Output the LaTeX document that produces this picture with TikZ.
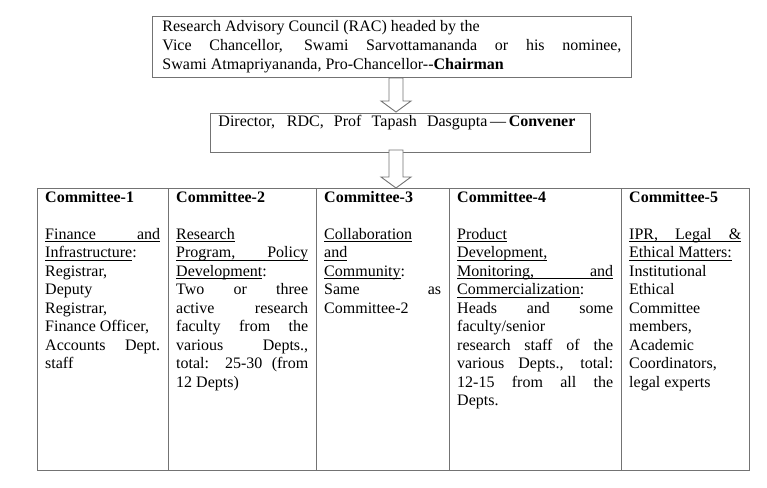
\documentclass[tikz,border=0pt]{standalone}
\usepackage{fontspec}
\setmainfont{Liberation Serif}
\usetikzlibrary{calc}
\newcommand\myj[1]{\leavevmode\makebox[\hsize][s]{\spaceskip=0pt\xspaceskip=0pt #1}}
\newcommand\myul[1]{\leavevmode\setbox0\hbox{#1}\rlap{\rule[-2.4pt]{\wd0}{0.7pt}}\box0}
\newcommand\mylj[1]{\myul{\makebox[\hsize][s]{\spaceskip=0pt\xspaceskip=0pt #1}}}
\tikzset{
  boxline/.style={draw=black!55, line width=0.9pt},
  topbox/.style={boxline, anchor=north west, inner xsep=10pt, inner ysep=2pt, align=flush left,
    font=\fontsize{16}{19}\selectfont},
  dirbox/.style={boxline, anchor=north west, inner xsep=8pt, inner ysep=1.5pt, align=flush left,
    font=\fontsize{16}{19}\selectfont},
  colbox/.style={boxline, anchor=north west, inner sep=0pt, minimum height=282pt},
  coltext/.style={anchor=north west, inner xsep=0pt, inner ysep=0pt, align=flush left,
    font=\fontsize{16}{18.5}\selectfont},
  blockarrow/.style={boxline, fill=white, line join=miter}
}
\begin{document}
\begin{tikzpicture}[x=1pt,y=-1pt]
\useasboundingbox (0,0) rectangle (767,487);
% top box
\node[topbox, text width=459pt, minimum height=61pt] (rac) at (152,16)
 {Research Advisory Council (RAC) headed by the\\
  \myj{Vice Chancellor, Swami Sarvottamananda or his nominee,}\\
  Swami Atmapriyananda, Pro-Chancellor-{}-\textbf{Chairman}};
% director box
\node[dirbox, text width=364pt, minimum height=37pt] (dir) at (210,113)
 {\makebox[357pt][s]{Director, RDC, Prof Tapash Dasgupta\,—\,\textbf{Convener}}\\\strut};
% arrows
\coordinate (a1s) at (396,78);
\coordinate (a1e) at (396,112);
\draw[blockarrow] ($(a1s)+(-7,0)$) -- ($(a1e)+(-7,-11)$) -- ($(a1e)+(-15,-11)$) -- (a1e)
  -- ($(a1e)+(15,-11)$) -- ($(a1e)+(7,-11)$) -- ($(a1s)+(7,0)$) -- cycle;
\coordinate (a2s) at (396,150);
\coordinate (a2e) at (396,188);
\draw[blockarrow] ($(a2s)+(-7,0)$) -- ($(a2e)+(-7,-11)$) -- ($(a2e)+(-15,-11)$) -- (a2e)
  -- ($(a2e)+(15,-11)$) -- ($(a2e)+(7,-11)$) -- ($(a2s)+(7,0)$) -- cycle;
% table columns
\node[colbox, minimum width=131pt] (c1) at (37,188) {};
\node[colbox, minimum width=148pt] (c2) at (168,188) {};
\node[colbox, minimum width=133pt] (c3) at (316,188) {};
\node[colbox, minimum width=172pt] (c4) at (449,188) {};
\node[colbox, minimum width=128pt] (c5) at (621,188) {};
\node[coltext, text width=115pt] (t1) at ($(c1.north west)+(8,3)$)
 {\textbf{Committee-1}\\[18.5pt]
  \mylj{Finance and}\\
  \myul{Infrastructure}:\\
  Registrar,\\
  Deputy\\
  Registrar,\\
  Finance Officer,\\
  \myj{Accounts Dept.}\\
  staff};
\node[coltext, text width=132pt] (t2) at ($(c2.north west)+(8,3)$)
 {\textbf{Committee-2}\\[18.5pt]
  \myul{Research}\\
  \mylj{Program, Policy}\\
  \myul{Development}:\\
  \myj{Two or three}\\
  \myj{active research}\\
  \myj{faculty from the}\\
  \myj{various Depts.,}\\
  \myj{total: 25-30 (from}\\
  12 Depts)};
\node[coltext, text width=117pt] (t3) at ($(c3.north west)+(8,3)$)
 {\textbf{Committee-3}\\[18.5pt]
  \myul{Collaboration}\\
  \myul{and}\\
  \myul{Community}:\\
  \myj{Same as}\\
  Committee-2};
\node[coltext, text width=156pt] (t4) at ($(c4.north west)+(8,3)$)
 {\textbf{Committee-4}\\[18.5pt]
  \myul{Product}\\
  \myul{Development,}\\
  \mylj{Monitoring, and}\\
  \myul{Commercialization}:\\
  \myj{Heads and some}\\
  faculty/senior\\
  \myj{research staff of the}\\
  \myj{various Depts., total:}\\
  \myj{12-15 from all the}\\
  Depts.};
\node[coltext, text width=112pt] (t5) at ($(c5.north west)+(8,3)$)
 {\textbf{Committee-5}\\[18.5pt]
  \mylj{IPR, Legal \&}\\
  \myul{Ethical Matters:}\\
  Institutional\\
  Ethical\\
  Committee\\
  members,\\
  Academic\\
  Coordinators,\\
  legal experts};
\end{tikzpicture}
\end{document}
